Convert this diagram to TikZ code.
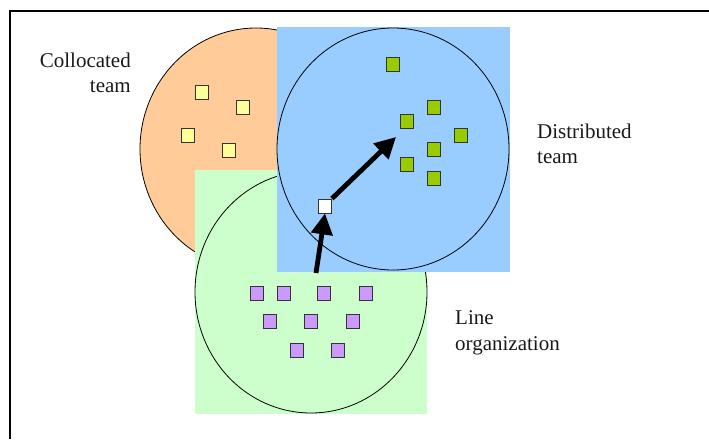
\documentclass[tikz,border=0pt]{standalone}
\usepackage{fontspec}
\setmainfont{Liberation Serif}
\usepackage{tikz}
\usetikzlibrary{arrows.meta}
\definecolor{peach}{RGB}{255,204,153}
\definecolor{skyblue}{RGB}{153,204,255}
\definecolor{mint}{RGB}{204,255,204}
\definecolor{paleyellow}{RGB}{255,255,153}
\definecolor{leaf}{RGB}{153,204,0}
\definecolor{lilac}{RGB}{204,153,255}

\begin{document}
\begin{tikzpicture}[x=1pt, y=-1pt]
  \tikzset{member/.style={draw=black!80, line width=0.8pt, minimum width=13pt,
           minimum height=14pt, inner sep=0pt},
           grouptag/.style={inner sep=0pt, text=black!90,
           font=\fontsize{21}{25.5}\selectfont},
           link/.style={line width=4.8pt, -{Triangle[length=21pt, width=21pt]}}}
        \useasboundingbox (0,0) rectangle (709,439);
        % the three groups
        \draw[line width=0.8pt, fill=peach] (256,149) ellipse [x radius=116pt, y radius=121pt];
        \fill[mint] (195,170) rectangle (427,414);
        \draw[line width=0.8pt] (311,292) ellipse [x radius=116pt, y radius=121pt];
        \fill[skyblue] (277,27) rectangle (510,272);
        \draw[line width=0.8pt] (393,149) ellipse [x radius=116pt, y radius=121pt];
        % collocated members
        \node[member, fill=paleyellow] (Y1) at (202,92) {};
        \node[member, fill=paleyellow] (Y2) at (243,107) {};
        \node[member, fill=paleyellow] (Y3) at (188,135) {};
        \node[member, fill=paleyellow] (Y4) at (229,150) {};
        % distributed members
        \node[member, fill=leaf] (G1) at (393,64) {};
        \node[member, fill=leaf] (G2) at (434,107) {};
        \node[member, fill=leaf] (G3) at (407,121) {};
        \node[member, fill=leaf] (G4) at (461,135) {};
        \node[member, fill=leaf] (G5) at (434,149) {};
        \node[member, fill=leaf] (G6) at (407,164) {};
        \node[member, fill=leaf] (G7) at (434,178) {};
        % line organization members
        \node[member, fill=lilac] (L1) at (257,293) {};
        \node[member, fill=lilac] (L2) at (284,293) {};
        \node[member, fill=lilac] (L3) at (324,293) {};
        \node[member, fill=lilac] (L4) at (366,293) {};
        \node[member, fill=lilac] (L5) at (270,321) {};
        \node[member, fill=lilac] (L6) at (311,321) {};
        \node[member, fill=lilac] (L7) at (353,321) {};
        \node[member, fill=lilac] (L8) at (297,350) {};
        \node[member, fill=lilac] (L9) at (338,350) {};
        % the moving member
        \node[member, fill=white] (W) at (325,206) {};
        \coordinate (Start) at (316,273);
        \coordinate (Aim) at (396,137);
        \draw[link] (Start) -- (W.south);
        \draw[link] (W.north east) -- (Aim);
        % labels
        \node[grouptag, align=right, anchor=east] (Coll) at (131,73) {Collocated\\team};
        \node[grouptag, align=left, anchor=west] (Dist) at (537,144) {Distributed\\team};
        \node[grouptag, align=left, anchor=west] (Line) at (455,333) {Line\\organization};
        % frame
        \draw[line width=2pt] (10,439) -- (10,11) -- (709,11);
\end{tikzpicture}
\end{document}
